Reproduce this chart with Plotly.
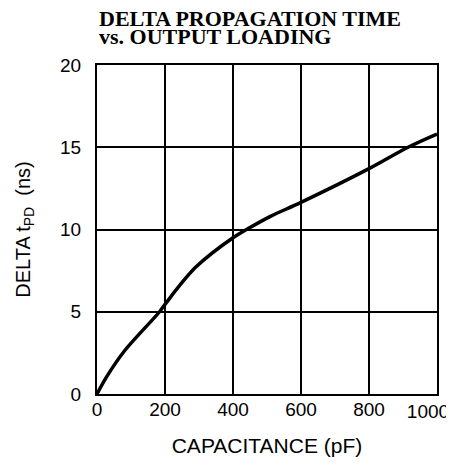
import plotly.graph_objects as go

# Data
capacitance_pf = [0, 30, 80, 184, 200, 290, 400, 440, 510, 600, 800, 915, 1000]
delta_tpd_ns = [0, 1.1, 2.6, 5.0, 5.45, 7.7, 9.5, 10.0, 10.8, 11.65, 13.7, 15.0, 15.8]

x_ticks = [0, 200, 400, 600, 800]
x_tick_labels = ["0", "200", "400", "600", "800"]
x_end_tick = [1000]
x_end_label = ["1000"]
y_ticks = [0, 5, 10, 15, 20]

title_lines = ["DELTA PROPAGATION TIME", "vs. OUTPUT LOADING"]

fig = go.Figure()
fig.add_trace(go.Scatter(
    x=capacitance_pf, y=delta_tpd_ns, mode="lines",
    line=dict(color="black", width=3.5, shape="spline", smoothing=1.0),
    showlegend=False, hoverinfo="skip",
))
# empty trace that only registers the second x axis (carries the "1000" label)
fig.add_trace(go.Scatter(
    x=[], y=[], xaxis="x2", yaxis="y", mode="lines",
    showlegend=False, hoverinfo="skip",
))

tick_font = dict(family="Liberation Sans, Arial, sans-serif", size=19, color="black")

axis_common = dict(
    showgrid=True, gridcolor="black", gridwidth=2,
    showline=True, linecolor="black", linewidth=2, mirror=True,
    zeroline=False, ticks="", ticklabeloverflow="allow", automargin=False,
    tickfont=tick_font,
)

fig.update_layout(
    xaxis=dict(
        range=[0, 1000], tickvals=x_ticks, ticktext=x_tick_labels,
        ticklabelstandoff=-3,
        title=dict(text="CAPACITANCE (pF)", standoff=20,
                   font=dict(family="Liberation Sans, Arial, sans-serif", size=21, color="black")),
        **axis_common,
    ),
    yaxis=dict(
        range=[0, 20], tickvals=y_ticks, ticktext=[str(v) for v in y_ticks],
        ticklabelstandoff=10,
        title=dict(text="DELTA t<sub>PD</sub>\u00a0 (ns)", standoff=24,
                   font=dict(family="Liberation Sans, Arial, sans-serif", size=20, color="black")),
        **axis_common,
    ),
    xaxis2=dict(
        overlaying="x", anchor="y", side="bottom", range=[0, 1000],
        tickvals=x_end_tick, ticktext=x_end_label, showgrid=False,
        showline=False, zeroline=False,
        ticks="", ticklabelshift=-9, ticklabelstandoff=4,
        ticklabeloverflow="allow", automargin=False, tickfont=tick_font,
    ),
)

for i, line in enumerate(title_lines):
    fig.add_annotation(
        text="<b>" + line + "</b>", xref="paper", yref="paper",
        x=0, y=1 + (65 - (19 + 17 * i)) / 329,
        xanchor="left", yanchor="middle", showarrow=False,
        font=dict(family="Liberation Serif, Times New Roman, serif", size=22, color="black"),
    )

# page body has an 8px default margin, so the figure is sized to fit the window
fig.update_layout(
    width=446, height=464,
    margin=dict(l=89, r=17, t=57, b=78),
    paper_bgcolor="white", plot_bgcolor="white",
)

fig.write_html("out.html")
